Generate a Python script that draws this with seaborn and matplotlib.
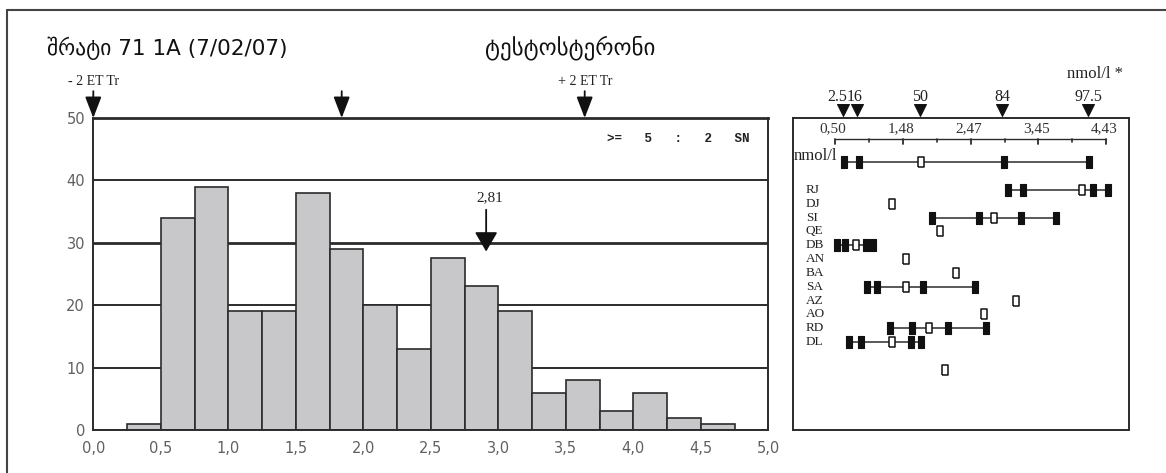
import numpy as np
import pandas as pd
import seaborn as sns
import matplotlib.pyplot as plt
from matplotlib.lines import Line2D
from matplotlib.ticker import FixedLocator, MultipleLocator

# left panel: histogram with 0.25 wide bins from 0 to 5
bin_edges = [i * 0.25 for i in range(21)]
counts = [0, 1, 34, 39, 19, 19, 38, 29, 20, 13,
          27.5, 23, 19, 6, 8, 3, 6, 2, 1, 0]
x_ticks = [0.0, 0.5, 1.0, 1.5, 2.0, 2.5, 3.0, 3.5, 4.0, 4.5, 5.0]
x_tick_labels = ["0,0", "0,5", "1,0", "1,5", "2,0", "2,5",
                 "3,0", "3,5", "4,0", "4,5", "5,0"]
y_ticks = [0, 10, 20, 30, 40, 50]

top_arrows = [0.0, 1.84, 3.64]
top_arrow_labels = ["- 2 ET Tr", "", "+ 2 ET Tr"]
mean_pos = 2.91
mean_label = "2,81"

# right panel: lab results on the nmol/l scale
scale_ticks = [0.50, 1.48, 2.47, 3.45, 4.43]
scale_labels = ["0,50", "1,48", "2,47", "3,45", "4,43"]
pct_pos = [0.61, 0.82, 1.73, 2.92, 4.17]
pct_labels = ["2.5", "16", "50", "84", "97.5"]

row_labels = ["nmol/l", "RJ", "DJ", "SI", "QE", "DB", "AN", "BA",
              "SA", "AZ", "AO", "RD", "DL", ""]
row_pos = [0, 2, 3, 4, 5, 6, 7, 8, 9, 10, 11, 12, 13, 15]
filled_marks = [
    [0.63, 0.84, 2.95, 4.18],
    [3.01, 3.23, 4.24, 4.46],
    [],
    [1.91, 2.59, 3.20, 3.70],
    [],
    [0.52, 0.64, 0.95, 1.05],
    [],
    [],
    [0.96, 1.11, 1.78, 2.53],
    [],
    [],
    [1.29, 1.61, 2.13, 2.69],
    [0.70, 0.88, 1.60, 1.75],
    [],
]
open_marks = [1.74, 4.08, 1.32, 2.81, 2.02, 0.80, 1.53, 2.26,
              1.53, 3.12, 2.66, 1.86, 1.32, 2.10]

sns.set_style("white")
plt.rcParams["font.family"] = ["DejaVu Sans"]

W, H = 1166, 473
fig = plt.figure(figsize=(W / 100, H / 100), dpi=100)

dark = "#2b2b2b"
tick_grey = "#606060"
serif = "Liberation Serif"

# ---- left: histogram ----
ax = fig.add_axes([93.3 / W, 43 / H, 675 / W, 312 / H])
hist_df = pd.DataFrame({"value": [b + 0.125 for b in bin_edges[:-1]],
                        "count": counts})
sns.histplot(data=hist_df, x="value", weights="count", bins=bin_edges,
             ax=ax, color="#c8c8ca", edgecolor=dark, linewidth=1.2,
             alpha=1, zorder=2)
for y in [10, 20, 30, 40]:
    ax.axhline(y, color=dark, lw=2.0 if y == 30 else 1.4, zorder=1)
ax.set_xlim(0, 5)
ax.set_ylim(0, 50)
ax.set_xlabel("")
ax.set_ylabel("")
for side in ["left", "right", "top", "bottom"]:
    ax.spines[side].set_color(dark)
    ax.spines[side].set_linewidth(1.4)
ax.spines["top"].set_linewidth(2.0)
ax.xaxis.set_major_locator(FixedLocator(x_ticks))
ax.set_xticklabels(x_tick_labels)
ax.xaxis.set_minor_locator(MultipleLocator(0.25))
ax.yaxis.set_major_locator(FixedLocator(y_ticks))
ax.set_yticklabels([str(v) for v in y_ticks])
ax.tick_params(axis="both", which="major", direction="out", length=4,
               width=1.2, color=dark, labelcolor=tick_grey, labelsize=10.5)
ax.tick_params(axis="x", which="minor", direction="out", length=3,
               width=1.0, color=dark)
ax.tick_params(axis="x", pad=4)
ax.tick_params(axis="y", pad=2)

for x, lab in zip(top_arrows, top_arrow_labels):
    ax.annotate("", xy=(x, 50), xytext=(x, 54.3),
                arrowprops=dict(arrowstyle="-|>,head_length=1.3,head_width=0.5",
                                color="#111111", lw=1.3, mutation_scale=10,
                                shrinkA=0, shrinkB=0),
                annotation_clip=False, zorder=5)
    if lab:
        ax.text(x, 55.9, lab, ha="center", va="center", fontsize=10,
                family=serif, color="#222222", clip_on=False)

ax.annotate("", xy=(mean_pos, 28.6), xytext=(mean_pos, 35.3),
            arrowprops=dict(arrowstyle="-|>,head_length=1.2,head_width=0.7",
                            color="#111111", lw=1.3, mutation_scale=10,
                            shrinkA=0, shrinkB=0), zorder=5)
ax.text(mean_pos + 0.03, 37.3, mean_label, ha="center", va="center",
        fontsize=11, family=serif, color="#222222")
ax.text(4.86, 46.6, ">=   5   :   2   SN", ha="right", va="center",
        fontsize=9, family="Liberation Mono", weight="bold",
        color="#222222")

fig.text(47 / W, 1 - 48 / H, "შრატი 71 1A (7/02/07)", ha="left",
         va="center", fontsize=15.5, color="#111111")
fig.text(570 / W, 1 - 48 / H, "ტესტოსტერონი", ha="center",
         va="center", fontsize=16.5, color="#111111")

# ---- right: lab comparison panel ----
rx = fig.add_axes([793.3 / W, 43 / H, 336 / W, 311.7 / H])
rx.set_xlim(-0.11, 4.77)
rx.set_ylim(19.38, -3.2)
rx.set_xticks([])
rx.set_yticks([])
for side in ["left", "right", "top", "bottom"]:
    rx.spines[side].set_color(dark)
    rx.spines[side].set_linewidth(1.4)

# inner scale
scale_y = -1.72
rx.plot([scale_ticks[0], scale_ticks[-1]], [scale_y, scale_y],
        color=dark, lw=1.0)
minor = [(a + b) / 2 for a, b in zip(scale_ticks[:-1], scale_ticks[1:])]
for t in scale_ticks:
    rx.plot([t, t], [scale_y, scale_y + 0.4], color=dark, lw=1.3)
for t in minor:
    rx.plot([t, t], [scale_y, scale_y + 0.22], color=dark, lw=1.2)
for t, lab in zip(scale_ticks, scale_labels):
    rx.text(t - 0.03, -2.45, lab, ha="center", va="center", fontsize=11,
            family=serif, color="#333333")

# percentile triangles above the box
pct_df = pd.DataFrame({"x": pct_pos, "y": [-3.8] * len(pct_pos)})
sns.scatterplot(data=pct_df, x="x", y="y", ax=rx, marker="v", s=75,
                color="#111111", edgecolor="#111111", clip_on=False,
                legend=False)
for i, (p, lab) in enumerate(zip(pct_pos, pct_labels)):
    ha = "center"
    xp = p
    if i == 0:
        ha, xp = "right", 0.665
    elif i == 1:
        ha, xp = "left", 0.665
    rx.text(xp, -4.75, lab, ha=ha, va="center", fontsize=11.5,
            family=serif, color="#222222", clip_on=False)
rx.text(4.68, -6.4, "nmol/l *", ha="right", va="center", fontsize=12,
        family=serif, color="#222222", clip_on=False)

# rows
rect_filled = [(-0.46, -1), (0.46, -1), (0.46, 1), (-0.46, 1), (-0.46, -1)]
rect_open = [(-0.55, -1), (0.55, -1), (0.55, 1), (-0.55, 1), (-0.55, -1)]
rows = []
for r, lab, fm, om in zip(row_pos, row_labels, filled_marks, open_marks):
    marks = fm + [om]
    if len(marks) > 1:
        rx.plot([min(marks), max(marks)], [r, r], color=dark, lw=1.1,
                zorder=2)
    for v in fm:
        rows.append({"x": v, "y": r, "kind": "filled"})
    rows.append({"x": om, "y": r, "kind": "open"})
    if lab == "nmol/l":
        rx.text(-0.10, -0.45, lab, ha="left", va="center", fontsize=12,
                family=serif, color="#222222")
    elif lab:
        rx.text(0.07, r, lab, ha="left", va="center", fontsize=9.5,
                family=serif, color="#222222")
marks_df = pd.DataFrame(rows)
sns.scatterplot(data=marks_df[marks_df.kind == "filled"], x="x", y="y",
                ax=rx, marker=rect_filled, s=78, color="#111111",
                edgecolor="#111111", linewidth=0.8, legend=False, zorder=3)
sns.scatterplot(data=marks_df[marks_df.kind == "open"], x="x", y="y",
                ax=rx, marker=rect_open, s=58, color="white",
                edgecolor="#111111", linewidth=1.1, legend=False, zorder=4)
rx.set_xlabel("")
rx.set_ylabel("")

# outer frame (top and left edges)
fig.add_artist(Line2D([7 / W, 1], [1 - 10 / H, 1 - 10 / H],
                      transform=fig.transFigure, color="#444444", lw=1.5))
fig.add_artist(Line2D([7 / W, 7 / W], [0, 1 - 10 / H],
                      transform=fig.transFigure, color="#444444", lw=1.5))

fig.savefig("out.png", dpi=100)
